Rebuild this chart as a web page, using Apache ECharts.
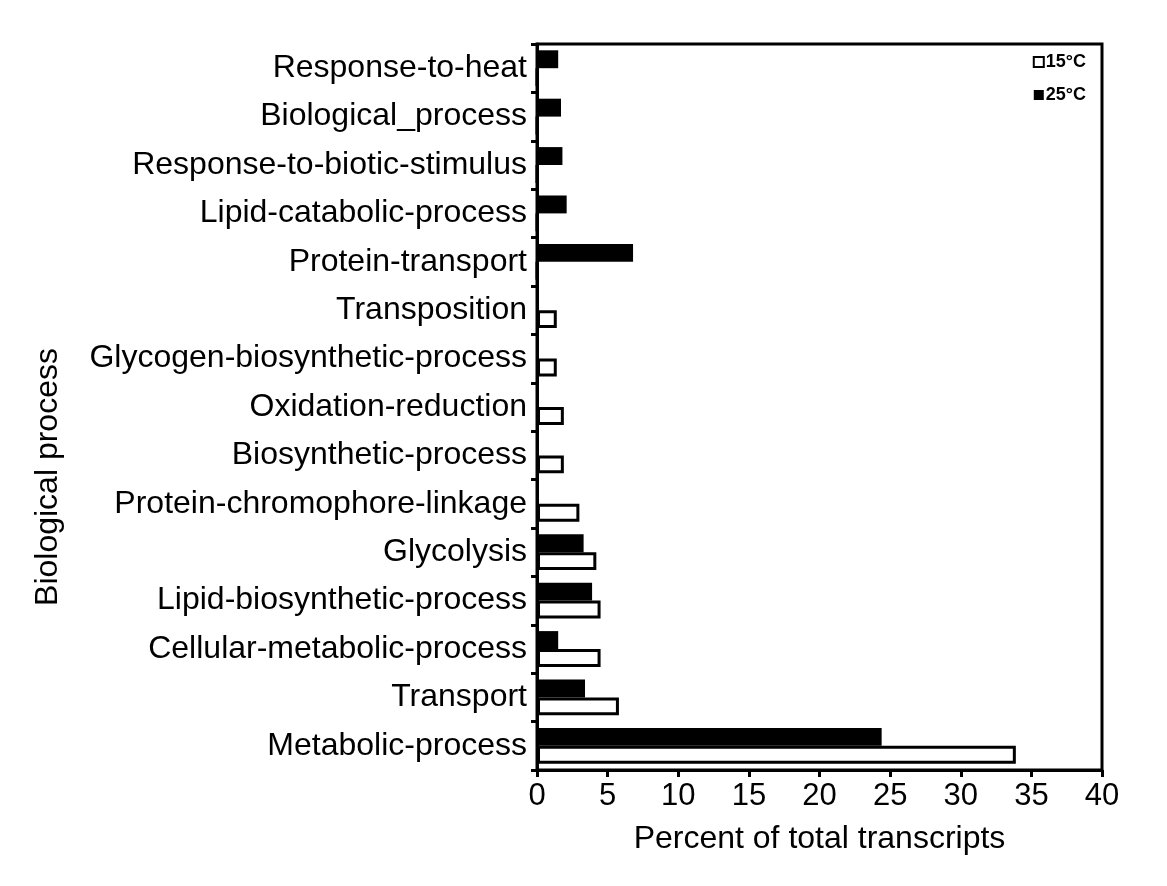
<!DOCTYPE html>
<html>
<head>
<meta charset="utf-8">
<script src="https://cdn.jsdelivr.net/npm/echarts@6/dist/echarts.min.js"></script>
<style>
  html, body { margin: 0; padding: 0; background: #fff; }
  #chart { width: 1167px; height: 886px; }
</style>
</head>
<body>
<div id="chart"></div>
<script>
// categories listed bottom to top
const categories = [
  'Metabolic-process',
  'Transport',
  'Cellular-metabolic-process',
  'Lipid-biosynthetic-process',
  'Glycolysis',
  'Protein-chromophore-linkage',
  'Biosynthetic-process',
  'Oxidation-reduction',
  'Glycogen-biosynthetic-process',
  'Transposition',
  'Protein-transport',
  'Lipid-catabolic-process',
  'Response-to-biotic-stimulus',
  'Biological_process',
  'Response-to-heat'
]
const values15 = [33.9, 5.8, 4.5, 4.5, 4.2, 3.0, 1.9, 1.9, 1.4, 1.4, 0, 0, 0, 0, 0]
const values25 = [24.4, 3.4, 1.5, 3.9, 3.3, 0, 0, 0, 0, 0, 6.8, 2.1, 1.8, 1.7, 1.5]
const xTicks = { min: 0, max: 40, interval: 5 }

const font = 'Arial, "Liberation Sans", sans-serif'
const chart = echarts.init(document.getElementById('chart'))

chart.setOption({
  animation: false,
  backgroundColor: '#fff',
  grid: {
    left: 537,
    right: 65,
    top: 44,
    bottom: 116,
    show: true,
    borderColor: '#000',
    borderWidth: 3,
  },
  legend: {
    orient: 'vertical',
    right: 76,
    top: 48,
    icon: 'rect',
    itemWidth: 10,
    itemHeight: 10,
    itemGap: 15,
    itemStyle: { borderWidth: 2 },
    textStyle: { fontFamily: font, fontSize: 18, fontWeight: 'bold', color: '#000', padding: [0, 0, 0, -3] },
    data: ['15°C', '25°C'],
  },
  graphic: [
    {
      type: 'text',
      x: 48,
      y: 477,
      rotation: Math.PI / 2,
      style: {
        text: 'Biological process',
        font: '32px Arial, "Liberation Sans", sans-serif',
        fill: '#000',
        align: 'center',
        verticalAlign: 'middle',
      },
    },
  ],
  xAxis: {
    type: 'value',
    min: xTicks.min,
    max: xTicks.max,
    interval: xTicks.interval,
    name: 'Percent of total transcripts',
    nameLocation: 'middle',
    nameGap: 53,
    nameTextStyle: { fontFamily: font, fontSize: 32, color: '#000' },
    axisLine: { show: true, lineStyle: { color: '#000', width: 3 } },
    axisTick: { show: true, length: 7, lineStyle: { color: '#000', width: 3 } },
    axisLabel: { fontFamily: font, fontSize: 31, color: '#000', margin: 11 },
    splitLine: { show: false },
  },
  yAxis: {
    type: 'category',
    data: categories,
    axisLine: { show: true, lineStyle: { color: '#000', width: 3 } },
    axisTick: { show: true, length: 6, lineStyle: { color: '#000', width: 3 } },
    axisLabel: { fontFamily: font, fontSize: 32, color: '#000', margin: 10 },
  },
  series: [
    {
      name: '25°C',
      type: 'bar',
      data: values25,
      barGap: '0%',
      barCategoryGap: '26%',
      itemStyle: { color: '#000' },
    },
    {
      name: '15°C',
      type: 'bar',
      data: values15,
      itemStyle: { color: '#fff', borderColor: '#000', borderWidth: 3 },
    },
  ],
})
</script>
</body>
</html>
